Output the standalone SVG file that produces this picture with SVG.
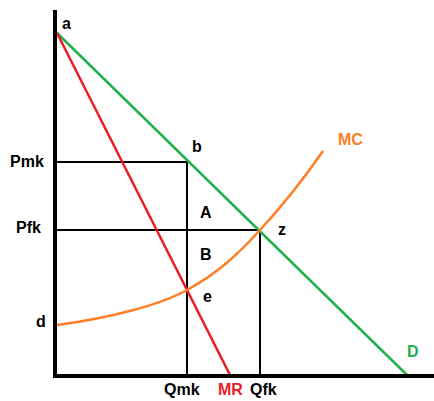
<svg xmlns="http://www.w3.org/2000/svg" width="434" height="401" viewBox="0 0 434 401">
<style>
text{font-family:"Liberation Sans",Arial,sans-serif;font-weight:bold;font-size:16px;fill:#000}
.ax{stroke:#000;stroke-width:4;fill:none}
.bl{stroke:#000;stroke-width:2;fill:none}
.g{stroke:#22b14c;stroke-width:2.5;fill:none}
.r{stroke:#ed1c24;stroke-width:2.5;fill:none}
.o{stroke:#ff7f27;stroke-width:2.5;fill:none}
</style>
<rect width="434" height="401" fill="#fff"/>
<g id="connectors">
<path class="bl" d="M55,162 H187 V376"/>
<path class="bl" d="M55,230 H260 V376"/>
<path id="D" class="g" d="M57,33 L407,375"/>
<path id="MR" class="r" d="M57,33 L230,375"/>
<path id="MC" class="o" d="M57,325 C110,318 160,305 187,290 C220,272 240,252 260,230 C285,203 305,177 323,151"/>
<path class="ax" d="M55,10 V376 H434"/>
</g>
<g id="labels">
<text x="62" y="29">a</text>
<text x="192" y="152">b</text>
<text x="10" y="167">Pmk</text>
<text x="16" y="233">Pfk</text>
<text x="200" y="218">A</text>
<text x="200" y="260">B</text>
<text x="203" y="302">e</text>
<text x="36" y="327">d</text>
<text x="278" y="235">z</text>
<text x="164" y="395">Qmk</text>
<text x="218" y="395" style="fill:#ed1c24">MR</text>
<text x="250" y="395">Qfk</text>
<text x="338" y="145" style="fill:#ff7f27">MC</text>
<text x="407" y="357" style="fill:#22b14c">D</text>
</g>
</svg>
